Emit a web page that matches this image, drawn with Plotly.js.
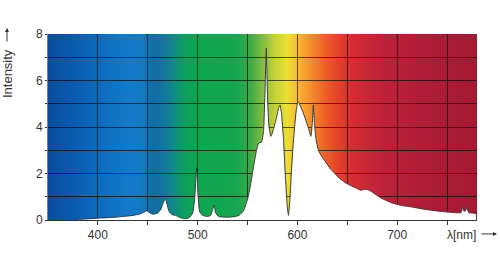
<!DOCTYPE html>
<html>
<head>
<meta charset="utf-8">
<script src="https://cdn.plot.ly/plotly-3.0.1.min.js"></script>
<style>html,body{margin:0;padding:0;background:#fff;}#chart{width:500px;height:261px;}</style>
</head>
<body>
<div id="chart"></div>
<script>
// Spectrum (wavelength in nm, relative intensity)
const wavelength = [378,380,390,400,410,420,430,438,443,446,449,451,455,460,463,466,468,470,472,475,478,481,485,489,492,495,497,499,500.5,502,505,510,513,515,516.5,518,521,530,538,542,546,550,553,556,559,561,564,566,567.5,568.8,570,571.5,573.5,576,579,581,582.5,584,586,588,590,591,592.5,594,596,598.5,600.5,602,605,608,611,613.5,615,616,617,618.5,621,625,629,633,636,642,649,656,660,663,666,669,672,675,680,685,690,696,705,716,726,736,748,760,764,765.5,767,768.5,770,771.5,775,779,779.6];
const intensity = [0,0.02,0.05,0.08,0.1,0.13,0.17,0.22,0.27,0.33,0.4,0.33,0.25,0.3,0.45,0.8,0.88,0.55,0.32,0.22,0.2,0.13,0.07,0.06,0.12,0.3,0.9,2.25,1.0,0.35,0.2,0.15,0.2,0.45,0.65,0.3,0.15,0.12,0.15,0.22,0.4,0.9,1.5,2.3,3.0,3.3,3.35,3.8,5.5,7.4,5.3,4.0,3.6,3.9,4.4,4.8,4.95,4.6,3.5,1.8,0.5,0.2,0.9,2.1,3.4,4.6,5.1,5.0,4.7,4.35,3.95,3.6,4.2,4.95,4.2,3.5,3.0,2.7,2.45,2.2,2.07,1.8,1.58,1.43,1.35,1.28,1.3,1.32,1.28,1.2,1.05,0.92,0.82,0.72,0.62,0.55,0.47,0.41,0.35,0.31,0.32,0.55,0.38,0.4,0.55,0.32,0.3,0.28,0];

// Axis ticks
const xTickVals = [400,450,500,550,600,650,700,750];
const xTickText = ['400','','500','','600','','700',''];
const yTickVals = [0,1,2,3,4,5,6,7,8];
const yTickText = ['0','','2','','4','','6','','8'];

// Background spectrum colour stops (wavelength, colour)
const bgWave  = [350,370,400,430,445,455,465,475,487,500,540,553,566,578,590,599,612,626,640,655,680,720,780];
const bgColor = ['#0a4c9c','#0b58ab','#0c6bbf','#127bca','#1479c2','#146ba8','#13749f','#11878c','#0ca05c','#0ea552','#16a74f','#3eab48','#86be40','#c6d33a','#ece035','#f9bc33','#f6922c','#ef6628','#e54429','#d52e31','#c1233a','#b11d37','#a51a33'];

const X0 = 350, X1 = 780, Y0 = 0, Y1 = 8;
const cv = document.createElement('canvas');
cv.width = 860; cv.height = 2;
const ctx = cv.getContext('2d');
const grad = ctx.createLinearGradient(0, 0, cv.width, 0);
bgWave.forEach((w, i) => grad.addColorStop((w - X0) / (X1 - X0), bgColor[i]));
ctx.fillStyle = grad;
ctx.fillRect(0, 0, cv.width, cv.height);
const bgSrc = cv.toDataURL('image/png');

const font = {family: '"Liberation Sans", Arial, sans-serif', size: 12, color: '#333'};
const labelFont = {family: '"Liberation Sans", Arial, sans-serif', size: 13, color: '#333'};

const traces = [{
  type: 'scatter', mode: 'lines',
  x: wavelength, y: intensity,
  fill: 'tozeroy', fillcolor: '#ffffff',
  line: {color: '#3a3a3a', width: 1, shape: 'spline', smoothing: 0.4},
  hoverinfo: 'x+y'
}];

const layout = {
  width: 500, height: 261,
  margin: {l: 48, r: 23, t: 34, b: 41},
  paper_bgcolor: '#ffffff', plot_bgcolor: '#ffffff',
  showlegend: false,
  font: font,
  xaxis: {
    range: [X0, X1], tickmode: 'array', tickvals: xTickVals, ticktext: xTickText,
    showgrid: true, gridcolor: 'rgba(0,0,0,0.65)', gridwidth: 1,
    zeroline: false, showline: true, linecolor: '#333', linewidth: 1,
    ticks: 'outside', ticklen: 4, tickcolor: '#333', tickfont: font, fixedrange: true
  },
  yaxis: {
    range: [Y0, Y1], tickmode: 'array', tickvals: yTickVals, ticktext: yTickText,
    showgrid: true, gridcolor: 'rgba(0,0,0,0.65)', gridwidth: 1,
    zeroline: false, showline: true, linecolor: 'rgba(0,0,0,0.5)', linewidth: 1,
    ticks: 'outside', ticklen: 2, tickcolor: '#333', tickfont: font, fixedrange: true
  },
  images: [{
    source: bgSrc, xref: 'x', yref: 'y', x: X0, y: Y1, sizex: X1 - X0, sizey: Y1 - Y0,
    sizing: 'stretch', xanchor: 'left', yanchor: 'top', layer: 'below'
  }],
  annotations: [
    {text: 'Intensity', xref: 'paper', yref: 'paper', x: -0.0956, y: 0.79, textangle: -90,
     showarrow: false, xanchor: 'center', yanchor: 'middle', font: labelFont},
    {text: '', xref: 'paper', yref: 'paper', x: -0.0956, y: 1.032, ax: 0, ay: 15,
     showarrow: true, arrowhead: 2, arrowsize: 0.8, arrowwidth: 1, arrowcolor: '#333'},
    {text: 'λ[nm]', xref: 'paper', yref: 'paper', x: 0.963, y: -0.078,
     showarrow: false, xanchor: 'center', yanchor: 'middle', font: font},
    {text: '', xref: 'paper', yref: 'paper', x: 1.0466, y: -0.075, ax: -17, ay: 0,
     showarrow: true, arrowhead: 2, arrowsize: 0.8, arrowwidth: 1, arrowcolor: '#333'}
  ]
};

Plotly.newPlot('chart', traces, layout, {displayModeBar: false, staticPlot: true});
</script>
</body>
</html>
